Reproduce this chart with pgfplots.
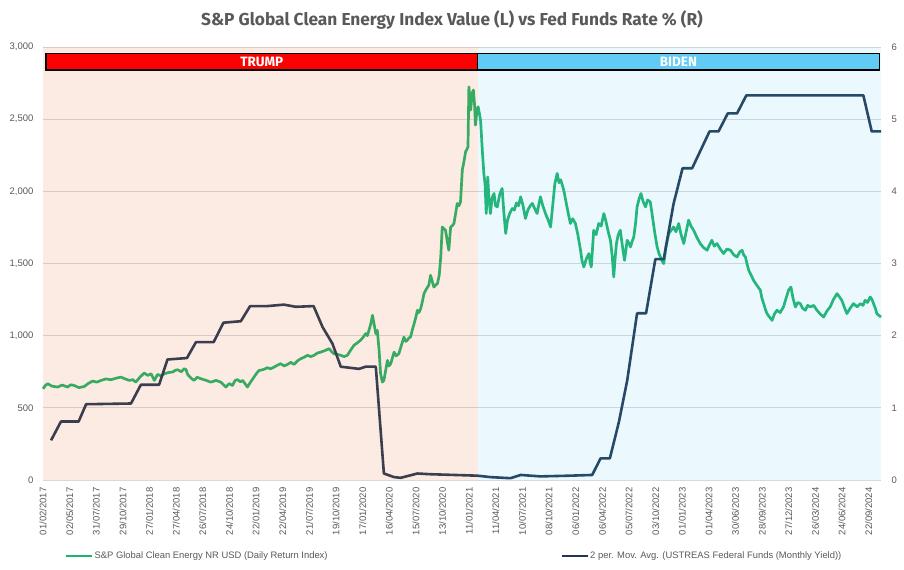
\documentclass[border=0pt]{standalone}
\usepackage{pgfplots}
\pgfplotsset{compat=1.18}
\usepackage{fontspec}
\setmainfont{Liberation Sans}
\newfontfamily\titlefont{Fira Sans}
\usetikzlibrary{calc}
\definecolor{cegreen}{HTML}{1DB46C}
\definecolor{fednavy}{HTML}{1F3654}
\definecolor{gridc}{HTML}{D9D9D9}
\definecolor{tickc}{HTML}{595959}
\definecolor{trumpbg}{HTML}{E97132}
\definecolor{bidenbg}{HTML}{61CBF3}
\definecolor{bidenbar}{HTML}{61CBF3}
\definecolor{trumpbar}{HTML}{FF0000}

\pgfplotstableread{
day val
0 632
8 655
16 667
30 650
49 644
64 658
82 644
93 660
104 655
120 640
138 648
152 670
166 685
180 678
194 690
210 700
227 695
244 705
260 713
275 700
288 690
300 695
310 678
325 715
338 741
350 725
361 736
372 690
383 732
395 720
405 736
420 745
433 748
442 760
450 764
462 750
472 771
478 765
483 732
495 705
505 690
515 712
527 702
545 690
561 678
578 690
594 678
603 660
611 644
622 668
633 655
642 690
650 695
660 680
667 690
676 665
683 644
694 680
705 713
714 740
722 759
736 765
750 778
760 770
772 782
783 795
794 806
806 790
817 801
828 815
839 801
850 825
861 840
872 850
884 864
895 855
906 864
917 880
928 886
940 895
956 910
964 890
972 875
985 870
995 864
1006 855
1017 864
1028 900
1039 933
1050 950
1061 968
1070 990
1078 1014
1084 1000
1089 1037
1095 1080
1101 1141
1106 1083
1112 1014
1117 1037
1123 898
1128 737
1134 678
1139 690
1145 760
1151 829
1156 790
1162 806
1168 850
1173 886
1180 860
1189 875
1197 930
1206 990
1212 960
1217 968
1223 985
1228 990
1234 1040
1240 1083
1246 1130
1251 1176
1256 1160
1262 1187
1268 1240
1273 1291
1280 1320
1289 1349
1295 1418
1300 1380
1306 1337
1312 1350
1318 1361
1324 1420
1329 1545
1334 1753
1340 1740
1345 1730
1351 1650
1356 1592
1362 1753
1367 1760
1373 1777
1379 1850
1384 1916
1390 1900
1395 1927
1401 2147
1406 2200
1412 2274
1416 2290
1420 2308
1423 2724
1426 2650
1429 2563
1434 2680
1438 2702
1442 2600
1445 2459
1450 2560
1454 2586
1458 2540
1462 2494
1468 2280
1473 2124
1477 2050
1481 1846
1486 2100
1490 1950
1495 1846
1501 1960
1507 1985
1512 1900
1518 1892
1526 1980
1534 2020
1540 1850
1546 1708
1552 1800
1560 1850
1568 1881
1575 1870
1582 1920
1589 1900
1596 1962
1604 1900
1612 1812
1620 1870
1628 1900
1635 1916
1643 1880
1651 1846
1656 1900
1662 1962
1670 1900
1679 1846
1688 1800
1696 1753
1703 1900
1710 2050
1718 2124
1724 2060
1730 2080
1740 2008
1750 1900
1762 1777
1770 1810
1779 1777
1787 1700
1796 1592
1801 1520
1807 1476
1815 1530
1824 1569
1828 1510
1832 1476
1836 1600
1840 1730
1848 1700
1857 1777
1865 1760
1874 1846
1880 1800
1885 1753
1891 1700
1896 1661
1902 1550
1907 1407
1911 1520
1916 1638
1922 1700
1929 1730
1936 1620
1943 1522
1948 1600
1952 1661
1958 1640
1963 1615
1968 1650
1974 1684
1980 1780
1985 1892
1992 1950
1998 1985
2005 1930
2013 1892
2020 1940
2029 1927
2034 1860
2038 1800
2045 1700
2052 1615
2058 1570
2063 1545
2068 1520
2074 1499
2082 1620
2091 1708
2099 1730
2107 1753
2115 1720
2124 1777
2132 1700
2141 1638
2149 1720
2157 1800
2165 1760
2174 1730
2185 1680
2196 1638
2207 1610
2219 1592
2227 1630
2235 1661
2243 1620
2252 1638
2263 1600
2274 1569
2285 1600
2297 1592
2308 1560
2319 1545
2328 1580
2336 1592
2341 1560
2347 1545
2352 1500
2358 1453
2366 1420
2374 1384
2385 1350
2397 1314
2402 1260
2408 1222
2414 1180
2419 1153
2427 1130
2436 1106
2444 1150
2452 1176
2463 1160
2474 1199
2483 1260
2491 1314
2499 1337
2506 1260
2514 1199
2522 1230
2530 1222
2538 1190
2547 1176
2555 1210
2564 1199
2575 1210
2586 1176
2597 1150
2608 1129
2619 1170
2630 1199
2641 1250
2653 1291
2661 1270
2669 1245
2677 1200
2686 1153
2697 1190
2708 1222
2720 1200
2731 1222
2740 1210
2747 1245
2755 1230
2764 1268
2770 1250
2775 1222
2781 1190
2786 1153
2793 1140
2800 1129
}\cleantable

\pgfplotstableread{
day rate
27 0.55
60 0.81
119 0.81
144 1.05
294 1.06
327 1.32
388 1.32
416 1.67
481 1.69
511 1.91
570 1.91
603 2.18
661 2.20
692 2.41
750 2.41
805 2.43
845 2.40
904 2.41
934 2.12
967 1.89
995 1.57
1056 1.54
1078 1.57
1112 1.57
1139 0.09
1173 0.04
1195 0.03
1251 0.09
1295 0.08
1451 0.06
1495 0.04
1562 0.025
1596 0.07
1662 0.05
1762 0.06
1835 0.07
1863 0.30
1894 0.30
1924 0.80
1952 1.38
1985 2.31
2015 2.31
2046 3.06
2074 3.06
2107 3.83
2137 4.32
2169 4.32
2227 4.83
2257 4.83
2288 5.08
2319 5.08
2350 5.33
2741 5.33
2769 4.83
2800 4.83
}\fedtable

\begin{document}
\begin{tikzpicture}
\begin{axis}[
  scale only axis, width=838bp, height=433bp,
  xmin=0, xmax=2800, ymin=0, ymax=3000,
  clip=false,
  axis line style={draw=none},
  major tick length=0pt,
  ytick={0,500,...,3000},
  ymajorgrids, grid style={gridc, line width=0.8bp},
  /pgf/number format/1000 sep={,},
  /pgf/number format/assume math mode=true,
  yticklabel style={font=\fontsize{9.5bp}{11bp}\selectfont, text=tickc},
  yticklabel shift=6bp,
  xtick={0,89,...,2759},
  xticklabels={01/02/2017,02/05/2017,31/07/2017,29/10/2017,27/01/2018,27/04/2018,26/07/2018,24/10/2018,22/01/2019,22/04/2019,21/07/2019,19/10/2019,17/01/2020,16/04/2020,15/07/2020,13/10/2020,11/01/2021,11/04/2021,10/07/2021,08/10/2021,06/01/2022,06/04/2022,05/07/2022,03/10/2022,01/01/2023,01/04/2023,30/06/2023,28/09/2023,27/12/2023,26/03/2024,24/06/2024,22/09/2024},
  xticklabel style={rotate=90, anchor=east, font=\fontsize{9.5bp}{11bp}\selectfont, text=tickc},
  xticklabel shift=4bp,
]
\coordinate (SW) at (rel axis cs:0,0);
\coordinate (NE) at (rel axis cs:1,1);
\addplot[cegreen, line width=2.7bp, line join=round] table[x=day, y=val] {\cleantable};
\end{axis}

\begin{axis}[
  scale only axis, width=838bp, height=433bp,
  xmin=0, xmax=2800, ymin=0, ymax=6,
  clip=false,
  axis y line*=right, axis x line=none,
  axis line style={draw=none},
  major tick length=0pt,
  ytick={0,1,...,6},
  /pgf/number format/assume math mode=true,
  yticklabel style={font=\fontsize{9.5bp}{11bp}\selectfont, text=tickc},
  yticklabel shift=7bp,
  legend columns=2,
  legend style={at={(0.49,-0.1755)}, anchor=center, draw=none, fill=none,
    font=\fontsize{9.4bp}{11bp}\selectfont, text=tickc,
    /tikz/every even column/.append style={column sep=232bp},
    nodes={inner xsep=1bp}},
  legend image code/.code={\draw[#1] (0bp,0bp) -- (26bp,0bp);},
]
\addlegendimage{cegreen, line width=2.7bp}
\addlegendentry{S\&P Global Clean Energy NR USD (Daily Return Index)}
\addplot[fednavy, line width=2.6bp, line join=round] table[x=day, y=rate] {\fedtable};
\addlegendentry{2 per. Mov. Avg. (USTREAS Federal Funds (Monthly Yield))}
\fill[trumpbg, opacity=0.14] (axis cs:0,0) rectangle (axis cs:1452,6);
\fill[bidenbg, opacity=0.13] (axis cs:1452,0) rectangle (axis cs:2800,6);
\draw[fill=trumpbar, draw=black, line width=1.4bp] (axis cs:10,5.68) rectangle (axis cs:1452,5.91);
\draw[fill=bidenbar, draw=black, line width=1.4bp] (axis cs:1452,5.68) rectangle (axis cs:2794,5.91);
\node[text=white, font=\titlefont\bfseries\fontsize{13.5bp}{15bp}\selectfont] at (axis cs:731,5.795) {TRUMP};
\node[text=white, font=\titlefont\bfseries\fontsize{13.5bp}{15bp}\selectfont] at (axis cs:2123,5.795) {BIDEN};
\end{axis}

\node[text=tickc, font=\titlefont\bfseries\fontsize{17.3bp}{20bp}\selectfont] at ($(SW)+(409bp,460bp)$) {S\&P Global Clean Energy Index Value (L) vs Fed Funds Rate \% (R)};
\path ($(SW)+(-43bp,-90bp)$) rectangle ($(SW)+(861bp,480bp)$);
\end{tikzpicture}
\end{document}
